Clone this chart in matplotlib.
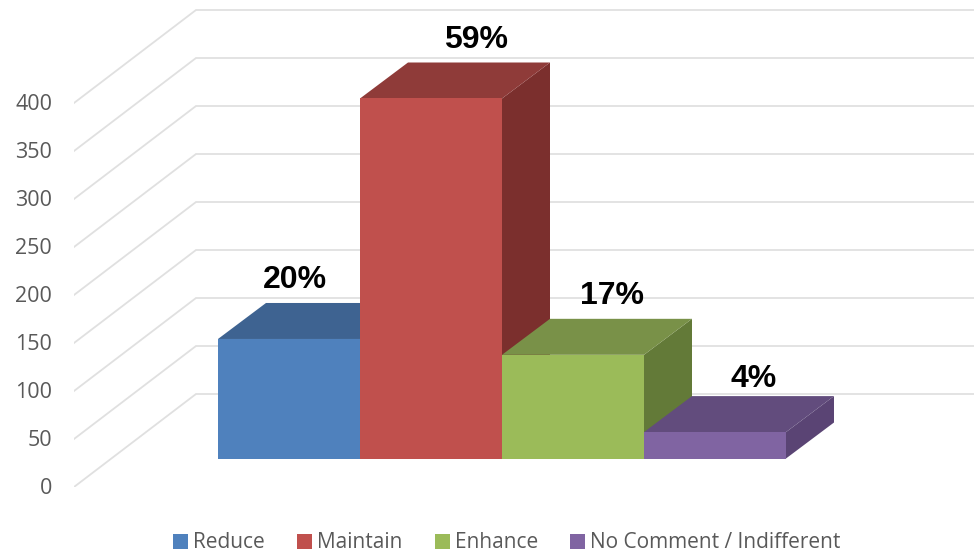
import matplotlib
matplotlib.use("Agg")
import matplotlib.pyplot as plt
from matplotlib.patches import Patch, Polygon
from matplotlib.transforms import ScaledTranslation

# -----------------------------
# Data
# -----------------------------
categories = ["Reduce", "Maintain", "Enhance", "No Comment / Indifferent"]
values = [124.5, 375, 108, 27.5]
percent_labels = ["20%", "59%", "17%", "4%"]
tick_values = [0, 50, 100, 150, 200, 250, 300, 350, 400]

# colours
front_colors = ["#4F81BD", "#C0504D", "#9BBB59", "#8064A2"]
top_colors = ["#3E6391", "#8F3B39", "#799148", "#624C7D"]
side_colors = ["#375A84", "#7B2F2D", "#637A38", "#5A4474"]
grid_color = "#E0E0E0"
text_color = "#595959"

# layout, measured in pixels of the 974x553 picture
px_per_bar = 142
px_per_value = 0.96
left_px = 74
bar_left_px = 218
zero_px = 487
bar_base = (487 - 458.5) / px_per_value
depth_x = 48 / px_per_bar
depth_y = 36 / px_per_value
wall_x = 122 / px_per_bar
wall_y = 93 / px_per_value
label_dx = [6, 45, 39, 39]
label_dy = [59, 59, 59, 53]

fig = plt.figure(figsize=(9.74, 5.53), dpi=100)
ax = fig.add_axes([left_px / 974, (553 - zero_px) / 553, 1 - left_px / 974, zero_px / 553])
x_left = (left_px - bar_left_px) / px_per_bar
ax.set_xlim(x_left, (974 - bar_left_px) / px_per_bar)
ax.set_ylim(0, zero_px / px_per_value)

# -----------------------------
# Wall and floor grid lines
# -----------------------------
for v in tick_values:
    ax.plot([x_left, x_left + wall_x, 100], [v, v + wall_y, v + wall_y],
            color=grid_color, lw=1.3, solid_joinstyle="miter", zorder=1)

# -----------------------------
# Bars: side, top, then front so the next bar covers the last one
# -----------------------------
for i, v in enumerate(values):
    top = bar_base + v
    z = 2 + i
    ax.add_patch(Polygon([(i + 1, bar_base), (i + 1 + depth_x, bar_base + depth_y),
                          (i + 1 + depth_x, top + depth_y), (i + 1, top)],
                         facecolor=side_colors[i], edgecolor="none", zorder=z))
    ax.add_patch(Polygon([(i, top), (i + depth_x, top + depth_y),
                          (i + 1 + depth_x, top + depth_y), (i + 1, top)],
                         facecolor=top_colors[i], edgecolor="none", zorder=z))
    ax.add_patch(Polygon([(i, bar_base), (i + 1, bar_base), (i + 1, top), (i, top)],
                         facecolor=front_colors[i], edgecolor="none", zorder=z))
    ax.annotate(percent_labels[i], (i + 0.5, top), xytext=(label_dx[i] * 0.72, label_dy[i] * 0.72),
                textcoords="offset points", ha="center", va="center", zorder=10,
                fontsize=23, fontweight="bold", family="Liberation Sans", color="black",
                annotation_clip=False)

# -----------------------------
# Axis and legend
# -----------------------------
for spine in ax.spines.values():
    spine.set_visible(False)
ax.set_xticks([])
ax.set_yticks(tick_values)
ax.tick_params(axis="y", length=0, pad=15.8, labelsize=15.5, labelcolor=text_color)
shift = ScaledTranslation(0, 1 / 100, fig.dpi_scale_trans)
for label in ax.get_yticklabels():
    label.set_family("Open Sans")
    label.set_transform(label.get_transform() + shift)

handles = [Patch(facecolor=c, edgecolor="none") for c in front_colors]
fig.legend(handles, categories, loc="center", bbox_to_anchor=(507 / 974, 1 - 543 / 553),
           ncol=4, frameon=False, labelcolor=text_color,
           prop={"family": "Open Sans", "size": 15},
           handlelength=0.72, handleheight=0.72, handletextpad=0.24, columnspacing=1.54)

fig.savefig("out.png", dpi=100)
